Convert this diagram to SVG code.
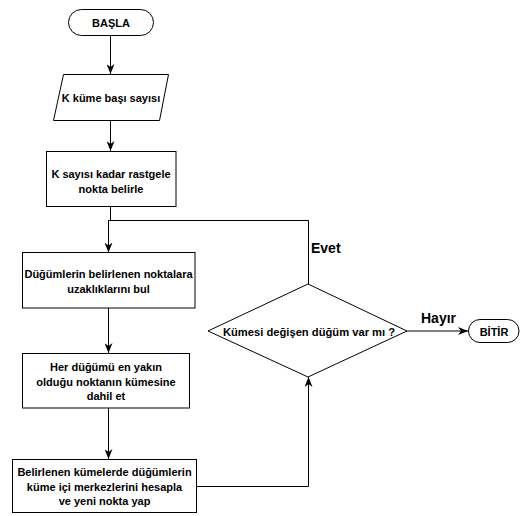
<svg xmlns="http://www.w3.org/2000/svg" width="524" height="516" viewBox="0 0 524 516">
<defs>
<marker id="arr" viewBox="0 0 10 8" refX="10" refY="4" markerWidth="10" markerHeight="8" markerUnits="userSpaceOnUse" orient="auto">
<path d="M0,0 L10,4 L0,8 L3,4 Z" fill="#000"/>
</marker>
<style>
.shape{fill:#fff;stroke:#000;stroke-width:1}
.edge{fill:none;stroke:#000;stroke-width:1}
.t{font-family:"Liberation Sans",Arial,sans-serif;font-size:11px;font-weight:bold;text-anchor:middle;fill:#000}
.lbl{font-family:"Liberation Sans",Arial,sans-serif;font-size:14px;font-weight:bold;fill:#000}
</style>
</defs>
<rect width="524" height="516" fill="#fff"/>
<g id="connectors">
<path class="edge" d="M110.5,35.5 V74" marker-end="url(#arr)"/>
<path class="edge" d="M110.5,120.5 V151" marker-end="url(#arr)"/>
<path class="edge" d="M110.5,206.5 V220"/>
<path class="edge" d="M108.5,220 V252.5" marker-end="url(#arr)"/>
<path class="edge" d="M108.5,308 V353" marker-end="url(#arr)"/>
<path class="edge" d="M108.5,408 V459" marker-end="url(#arr)"/>
<path class="edge" d="M196.5,486.5 H308.5 V377" marker-end="url(#arr)"/>
<path class="edge" d="M308.5,284 V220.5 H108.5"/>
<path class="edge" d="M407,331 H468" marker-end="url(#arr)"/>
<text class="lbl" x="311" y="253">Evet</text>
<text class="lbl" x="421" y="323">Hayır</text>
</g>
<g id="start">
<rect class="shape" x="68.5" y="9.5" width="85" height="26" rx="13" ry="13"/>
<text class="t" x="111" y="27">BAŞLA</text>
</g>
<g id="input">
<polygon class="shape" points="63.5,74.5 168.5,74.5 159.5,120.5 53.5,120.5"/>
<text class="t" x="111" y="101.5">K küme başı sayısı</text>
</g>
<g id="random">
<rect class="shape" x="46.5" y="151.5" width="129.5" height="55"/>
<text class="t" x="111" y="177.5">K sayısı kadar rastgele</text>
<text class="t" x="111" y="192.5">nokta belirle</text>
</g>
<g id="distance">
<rect class="shape" x="22.5" y="252.5" width="172.5" height="55.5"/>
<text class="t" x="108.5" y="277.5">Düğümlerin belirlenen noktalara</text>
<text class="t" x="108.5" y="292.5">uzaklıklarını bul</text>
</g>
<g id="assign">
<rect class="shape" x="22.5" y="353.5" width="167" height="54.5"/>
<text class="t" x="106" y="371">Her düğümü en yakın</text>
<text class="t" x="106" y="385.5">olduğu noktanın kümesine</text>
<text class="t" x="106" y="400">dahil et</text>
</g>
<g id="recompute">
<rect class="shape" x="12.5" y="459.5" width="184" height="53"/>
<text class="t" x="104.5" y="476">Belirlenen kümelerde düğümlerin</text>
<text class="t" x="104.5" y="490.5">küme içi merkezlerini hesapla</text>
<text class="t" x="104.5" y="505">ve yeni nokta yap</text>
</g>
<g id="decision">
<polygon class="shape" points="208,331 308,284 407,331 308,377"/>
<text class="t" x="309" y="335.5" style="font-size:11.2px">Kümesi değişen düğüm var mı ?</text>
</g>
<g id="end">
<rect class="shape" x="468.5" y="319.5" width="50.5" height="23" rx="11.5" ry="11.5"/>
<text class="t" x="494" y="335.5">BİTİR</text>
</g>
</svg>
